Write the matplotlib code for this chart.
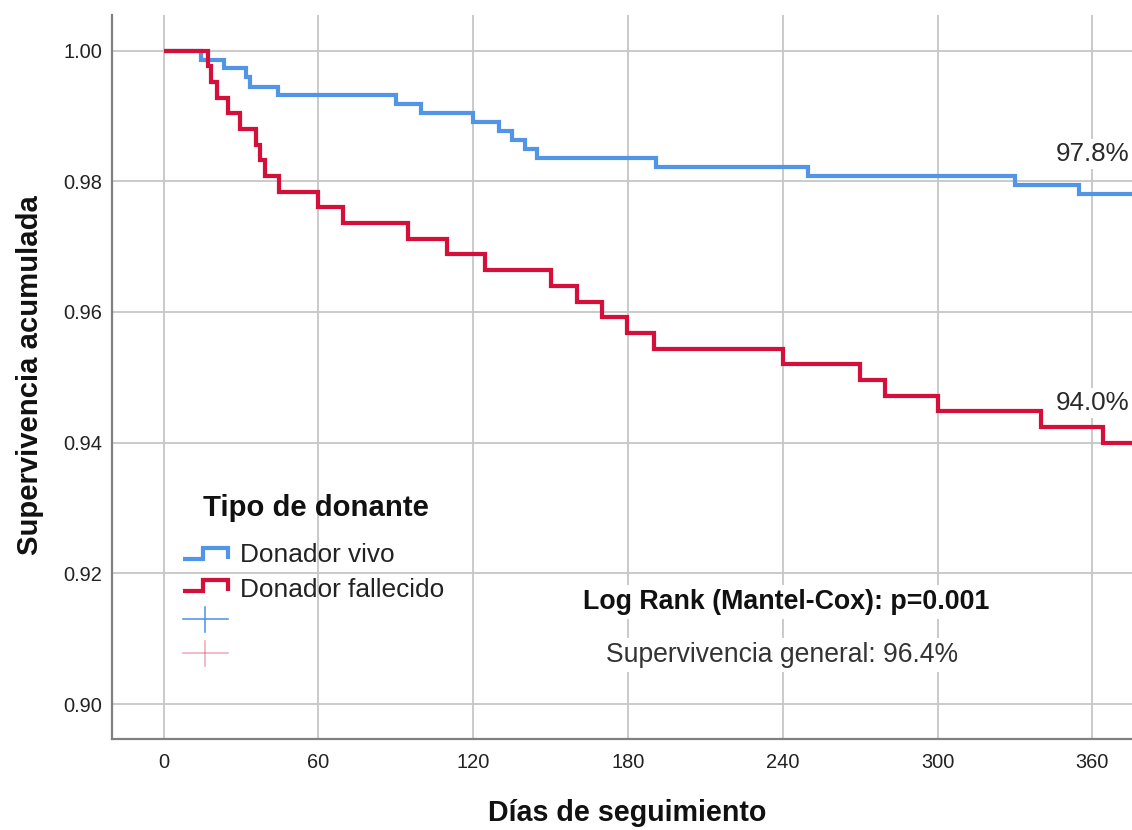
import matplotlib
matplotlib.use("Agg")
import matplotlib.pyplot as plt
from matplotlib.lines import Line2D

plt.rcParams['font.family'] = ['Liberation Sans', 'DejaVu Sans']

# Kaplan-Meier estimates: event days and cumulative survival after each event
vivo_dias = [0, 14.6, 23.4, 32.1, 33.4, 44.2, 90.0, 99.8, 119.9, 129.9, 135.1,
             140.0, 144.8, 190.8, 249.7, 330.0, 355.0]
vivo_surv = [1.0, 0.9986, 0.9973, 0.9959, 0.9945, 0.9932, 0.9918, 0.9904, 0.9890,
             0.9877, 0.9863, 0.9849, 0.9836, 0.9822, 0.9808, 0.9794, 0.9781]

fallecido_dias = [0, 17.2, 18.5, 20.5, 25.0, 29.5, 36.0, 37.3, 39.2, 44.7, 59.9,
                  69.7, 94.9, 109.8, 124.7, 150.0, 160.1, 170.0, 179.8, 190.1,
                  240.0, 270.0, 279.8, 300.2, 340.1, 364.0]
fallecido_surv = [1.0, 0.9976, 0.9952, 0.9928, 0.9904, 0.9880, 0.9856, 0.9832,
                  0.9808, 0.9784, 0.9760, 0.9736, 0.9712, 0.9688, 0.9664, 0.9640,
                  0.9616, 0.9592, 0.9568, 0.9544, 0.9520, 0.9496, 0.9472, 0.9448,
                  0.9424, 0.9400]

grupos = ["Donador vivo", "Donador fallecido"]
x_ticks = [0, 60, 120, 180, 240, 300, 360]
y_ticks = [0.90, 0.92, 0.94, 0.96, 0.98, 1.00]

AZUL = '#5295E6'
ROJO = '#D4103A'
W, H = 1132, 830
DPI = 72

fig = plt.figure(figsize=(W / DPI, H / DPI), dpi=DPI)


def fx(px):
    return px / W


def fy(py):
    return 1 - py / H


ax = fig.add_axes([fx(112.3), fy(739.3), fx(1132) - fx(112.3), fy(15) - fy(739.3)])
x_end = 375.4
ax.set_xlim(-19.9, x_end)
ax.set_ylim(0.89461, 1.00545)

ax.set_xticks(x_ticks)
ax.set_xticklabels([str(t) for t in x_ticks])
ax.set_yticks(y_ticks)
ax.set_yticklabels([f"{t:.2f}" for t in y_ticks])
ax.tick_params(axis='both', length=0, labelsize=20, colors='#222222')
ax.tick_params(axis='x', pad=14)
ax.tick_params(axis='y', pad=10)

ax.grid(True, color='#C6C6C6', linewidth=1.8, zorder=0)
ax.set_axisbelow(True)
for s in ['top', 'right']:
    ax.spines[s].set_visible(False)
for s in ['left', 'bottom']:
    ax.spines[s].set_color('#808080')
    ax.spines[s].set_linewidth(2.2)

for dias, surv, color in [(vivo_dias, vivo_surv, AZUL),
                          (fallecido_dias, fallecido_surv, ROJO)]:
    ax.step(dias + [x_end], surv + [surv[-1]], where='post', color=color,
            linewidth=4.2, solid_joinstyle='miter', solid_capstyle='butt',
            zorder=3, clip_on=True)
    ax.annotate(f"{surv[-1] * 100:.1f}%", xy=(360, surv[-1]),
                xytext=(0, 32.5), textcoords='offset points',
                ha='center', va='baseline', fontsize=26, color='#2a2a2a',
                bbox=dict(boxstyle='square,pad=0.12', fc='white', ec='none'),
                zorder=2)

# Statistical annotations
fig.text(fx(786), fy(602), "Log Rank (Mantel-Cox): p=0.001", ha='center',
         va='center', fontsize=26.8, fontweight='bold', color='#111111',
         bbox=dict(boxstyle='square,pad=0.15', fc='white', ec='none'), zorder=2)
fig.text(fx(782), fy(655), "Supervivencia general: 96.4%", ha='center',
         va='center', fontsize=26.5, color='#333333',
         bbox=dict(boxstyle='square,pad=0.15', fc='white', ec='none'), zorder=2)

# Axis titles
fig.text(fx(627), fy(813), "Días de seguimiento", ha='center', va='center',
         fontsize=28.6, fontweight='bold', color='#111111')
fig.text(fx(30), fy(375), "Supervivencia acumulada", ha='center', va='center',
         rotation=90, fontsize=29.2, fontweight='bold', color='#111111')

# Legend drawn by hand: step symbols for each group plus censoring crosses
fig.text(fx(203), fy(508), "Tipo de donante", ha='left', va='center',
         fontsize=29.3, fontweight='bold', color='#111111')
sym_rows = [(548, 559), (580, 591)]
for (y_top, y_bot), color, name, yc in zip(sym_rows, [AZUL, ROJO], grupos, [555, 590]):
    xs = [fx(183), fx(203), fx(203), fx(228), fx(228)]
    ys = [fy(y_bot), fy(y_bot), fy(y_top), fy(y_top), fy(y_bot)]
    fig.add_artist(Line2D(xs, ys, color=color, linewidth=4.2,
                          solid_joinstyle='miter', solid_capstyle='butt'))
    fig.text(fx(240), fy(yc), name, ha='left', va='center', fontsize=26.3,
             color='#222222')

for yc, color, alpha in [(619, AZUL, 1.0), (653, ROJO, 0.35)]:
    fig.add_artist(Line2D([fx(183), fx(228)], [fy(yc), fy(yc)], color=color,
                          linewidth=1.6, alpha=alpha))
    fig.add_artist(Line2D([fx(205), fx(205)], [fy(yc - 12.5), fy(yc + 12.5)],
                          color=color, linewidth=1.6, alpha=alpha))

fig.savefig("out.png", dpi=DPI)
